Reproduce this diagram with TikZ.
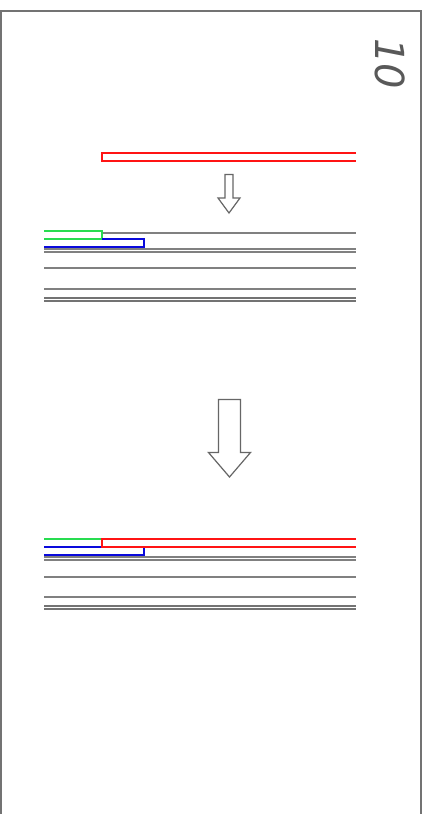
\documentclass[tikz,border=0pt]{standalone}
\usepackage{fontspec}
\setmainfont{DejaVu Sans}
\definecolor{myred}{RGB}{255,20,20}
\definecolor{mygreen}{RGB}{40,220,80}
\definecolor{myblue}{RGB}{10,10,220}
\begin{document}
\begin{tikzpicture}[x=1pt,y=-1pt,
  frame/.style={draw=black!55,line width=1.5pt},
  layer/.style={draw=black!50,line width=2pt},
  thick layer/.style={draw=black!55,line width=2pt},
  redl/.style={draw=myred,line width=2pt},
  greenl/.style={draw=mygreen,line width=2pt},
  bluel/.style={draw=myblue,line width=2pt},
  hollowarrow/.style={draw=black!60,line width=1.2pt,fill=white,line join=miter}]
\useasboundingbox (0,0) rectangle (425,814);
\fill[white] (0,0) rectangle (425,814);
\begin{scope}
\clip (0,0) rectangle (425,814);
\draw[frame] (1,11) rectangle (421,830);
\end{scope}
% page number
\node[rotate=-90,text=black!65,font=\itshape\fontsize{40}{40}\selectfont,inner sep=0pt] (num) at (390.5,64) {10};
% top red strip
\draw[redl] (356,153) -- (102,153) -- (102,161) -- (356,161);
% small arrow
\draw[hollowarrow] (225,174.5) -- (233,174.5) -- (233,198) -- (240,198) -- (229,213) -- (218,198) -- (225,198) -- cycle;
% middle stack
\draw[layer] (102,233) -- (356,233);
\draw[layer] (44,249) -- (356,249);
\draw[layer] (44,252) -- (356,252);
\draw[layer] (44,268) -- (356,268);
\draw[layer] (44,289) -- (356,289);
\draw[thick layer] (44,298) -- (356,298);
\draw[thick layer] (44,301) -- (356,301);
\draw[greenl] (44,231) -- (102,231) -- (102,239) -- (44,239);
\draw[bluel] (44,239) -- (102,239) -- (143.5,239) -- (143.5,247) -- (44,247);
\draw[greenl] (44,239) -- (102,239);
% big arrow
\draw[hollowarrow] (218.5,399.5) -- (240.5,399.5) -- (240.5,452.5) -- (250.5,452.5) -- (229.5,477) -- (208.5,452.5) -- (218.5,452.5) -- cycle;
% bottom stack
\draw[layer] (44,557) -- (356,557);
\draw[layer] (44,560) -- (356,560);
\draw[layer] (44,577) -- (356,577);
\draw[layer] (44,597) -- (356,597);
\draw[thick layer] (44,606) -- (356,606);
\draw[thick layer] (44,609) -- (356,609);
\draw[bluel] (44,547) -- (144,547) -- (144,555) -- (44,555);
\draw[greenl] (44,539) -- (102,539);
\draw[redl] (356,539) -- (102,539) -- (102,547) -- (356,547);
\end{tikzpicture}
\end{document}
